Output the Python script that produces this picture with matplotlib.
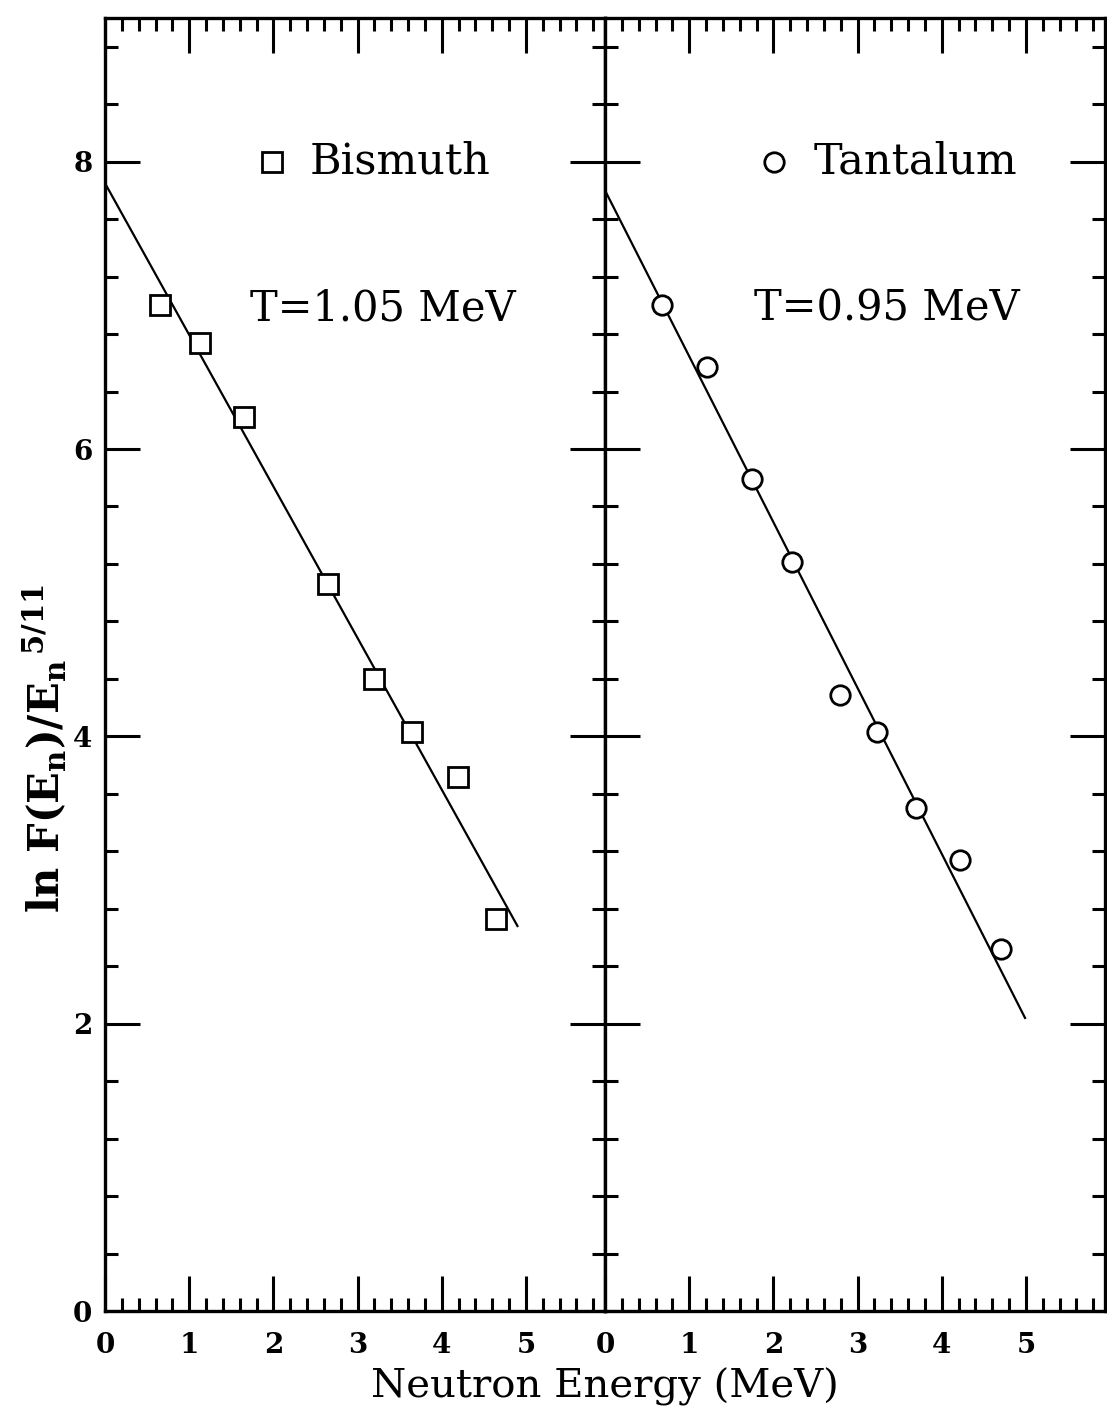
import matplotlib
matplotlib.use("Agg")
import matplotlib.pyplot as plt
from matplotlib.ticker import MultipleLocator

# ---- data ----
bi_energy = [0.65, 1.13, 1.65, 2.65, 3.19, 3.65, 4.19, 4.65]
bi_lnF = [7.00, 6.74, 6.22, 5.06, 4.40, 4.03, 3.72, 2.73]
bi_fit_x = [0.0, 4.9]
bi_fit_y = [7.85, 2.68]

ta_energy = [0.68, 1.21, 1.75, 2.22, 2.79, 3.23, 3.69, 4.22, 4.70]
ta_lnF = [7.00, 6.57, 5.79, 5.21, 4.29, 4.03, 3.50, 3.14, 2.52]
ta_fit_x = [0.0, 4.99]
ta_fit_y = [7.80, 2.04]

x_ticks = [0, 1, 2, 3, 4, 5]
y_ticks = [0, 2, 4, 6, 8]

plt.rcParams['font.family'] = ['DejaVu Serif']
plt.rcParams['mathtext.fontset'] = 'dejavuserif'
plt.rcParams['mathtext.default'] = 'regular'

fig = plt.figure(figsize=(11.07, 14.06), dpi=100)
L, M, R = 105/1107, 605/1107, 1105/1107
B, T = 1 - 1311/1406, 1 - 18/1406
ax1 = fig.add_axes([L, B, M - L, T - B])
ax2 = fig.add_axes([M, B, R - M, T - B], sharey=ax1)

for ax in (ax1, ax2):
    ax.set_xlim(0, 5.94)
    ax.set_ylim(0, 9)
    ax.set_xticks(x_ticks)
    ax.xaxis.set_minor_locator(MultipleLocator(0.2))
    ax.set_yticks(y_ticks)
    ax.yaxis.set_minor_locator(MultipleLocator(0.4))
    ax.tick_params(which='both', direction='in', top=True, right=True,
                   width=2.2, color='black')
    ax.tick_params(which='major', length=25)
    ax.tick_params(which='minor', length=9.5)
    ax.tick_params(axis='x', labelsize=20, pad=15)
    ax.tick_params(axis='y', labelsize=20, pad=9)
    for s in ax.spines.values():
        s.set_linewidth(2.4)
    for lab in ax.get_xticklabels() + ax.get_yticklabels():
        lab.set_fontweight('bold')

ax2.tick_params(labelleft=False)

# Bismuth
ax1.plot(bi_fit_x, bi_fit_y, color='black', lw=1.6)
ax1.plot(bi_energy, bi_lnF, linestyle='none', marker='s', ms=15,
         mfc='white', mec='black', mew=2.0)
ax1.plot([1.98], [8.0], linestyle='none', marker='s', ms=15,
         mfc='white', mec='black', mew=2.0)
ax1.text(2.43, 8.0, 'Bismuth', fontsize=31, va='center', ha='left')
ax1.text(1.72, 6.98, 'T=1.05 MeV', fontsize=30, va='center', ha='left')

# Tantalum
ax2.plot(ta_fit_x, ta_fit_y, color='black', lw=1.6)
ax2.plot(ta_energy, ta_lnF, linestyle='none', marker='o', ms=14,
         mfc='white', mec='black', mew=2.0)
ax2.plot([2.01], [8.0], linestyle='none', marker='o', ms=14,
         mfc='white', mec='black', mew=2.0)
ax2.text(2.48, 8.0, 'Tantalum', fontsize=31, va='center', ha='left')
ax2.text(1.77, 6.98, 'T=0.95 MeV', fontsize=30, va='center', ha='left')

fig.text(45/1107, 1 - 748/1406, r'ln F(E$_{n}$)/E$_{n}$$^{\,5/11}$',
         fontsize=30, fontweight='bold', rotation=90,
         ha='center', va='center')
fig.text((L + R) / 2, 1 - 1398/1406, 'Neutron Energy (MeV)', fontsize=29,
         ha='center', va='baseline')

fig.savefig('out.png', dpi=100)
